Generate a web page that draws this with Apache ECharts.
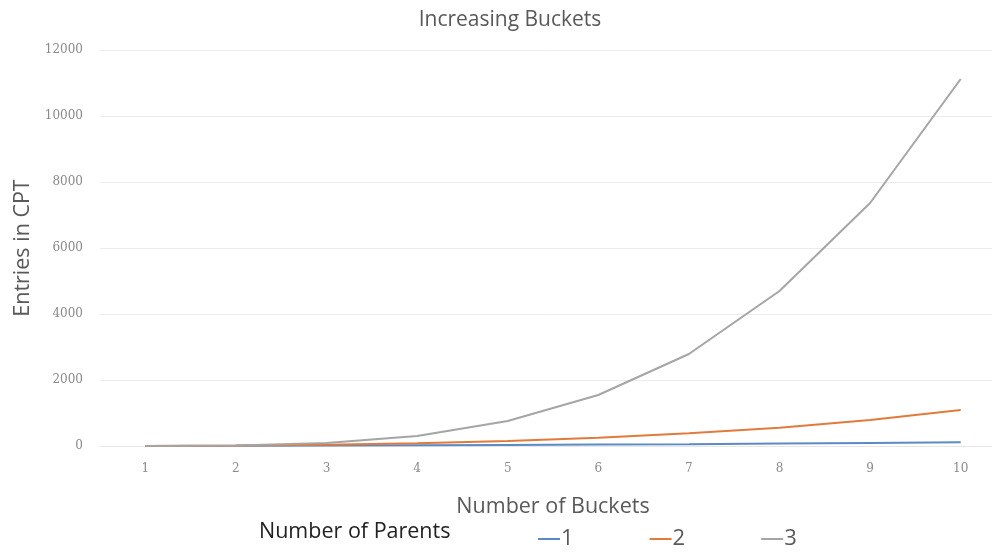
<!DOCTYPE html>
<html>
<head>
<meta charset="utf-8">
<script src="https://cdn.jsdelivr.net/npm/echarts@6/dist/echarts.min.js"></script>
<style>
  html, body { margin: 0; padding: 0; background: #fff; }
  #chart { width: 992px; height: 554px; }
</style>
</head>
<body>
<div id="chart"></div>
<script>
// Number of buckets per variable
const buckets = ['1', '2', '3', '4', '5', '6', '7', '8', '9', '10'];
// CPT entries, one array per number of parents
const parents1 = [2, 6, 12, 20, 30, 42, 56, 72, 90, 110];
const parents2 = [3, 14, 39, 84, 150, 250, 390, 550, 790, 1090];
const parents3 = [3, 14, 90, 300, 758, 1545, 2788, 4697, 7364, 11121];
const yTicks = { min: 0, max: 12000, interval: 2000 };

const chart = echarts.init(document.getElementById('chart'));
const font = '"Open Sans", "Noto Sans", sans-serif';

const lineSeries = (name, data, color) => ({
  name, type: 'line', data,
  symbol: 'none', smooth: false,
  lineStyle: { color, width: 2 },
  itemStyle: { color }
});

chart.setOption({
  animation: false,
  backgroundColor: '#ffffff',
  title: [
    {
      text: 'Increasing Buckets', left: 505, top: 5, textAlign: 'center',
      textStyle: { fontFamily: font, fontSize: 21, fontWeight: 'normal', color: '#595959' }
    },
    {
      text: 'Number of Parents', left: 254, top: 516,
      textStyle: { fontFamily: font, fontSize: 21.5, fontWeight: 'normal', color: '#222222' }
    }
  ],
  legend: {
    left: 533, top: 523,
    itemGap: 76, itemWidth: 22, itemHeight: 2,
    icon: 'rect',
    textStyle: { fontFamily: font, fontSize: 22, color: '#595959', padding: [0, 0, 0, -4] },
    data: ['1', '2', '3']
  },
  grid: { left: 100, top: 50, width: 906, height: 396, outerBoundsMode: 'none' },
  xAxis: {
    type: 'category', data: buckets, boundaryGap: true,
    name: 'Number of Buckets', nameLocation: 'middle', nameGap: 50,
    nameTextStyle: { fontFamily: font, fontSize: 21.5, color: '#595959' },
    axisLine: { show: true, lineStyle: { color: '#e6e6e6', width: 1 } },
    axisTick: { show: false },
    axisLabel: { margin: 17, fontFamily: '"DejaVu Serif", serif', fontSize: 12, color: '#8a8a8a' }
  },
  yAxis: {
    type: 'value', min: yTicks.min, max: yTicks.max, interval: yTicks.interval,
    name: 'Entries in CPT', nameLocation: 'middle', nameGap: 65, nameRotate: 90,
    nameTextStyle: { fontFamily: font, fontSize: 21.5, color: '#595959' },
    axisLine: { show: false },
    axisTick: { show: false },
    axisLabel: {
      margin: 17, fontFamily: '"DejaVu Serif", serif', fontSize: 12, color: '#8a8a8a',
      formatter: (v) => String(v)
    },
    splitLine: { lineStyle: { color: '#ececec', width: 1 } }
  },
  series: [
    lineSeries('1', parents1, '#5b8ac4'),
    lineSeries('2', parents2, '#e27a3c'),
    lineSeries('3', parents3, '#a5a5a5')
  ]
});
</script>
</body>
</html>
